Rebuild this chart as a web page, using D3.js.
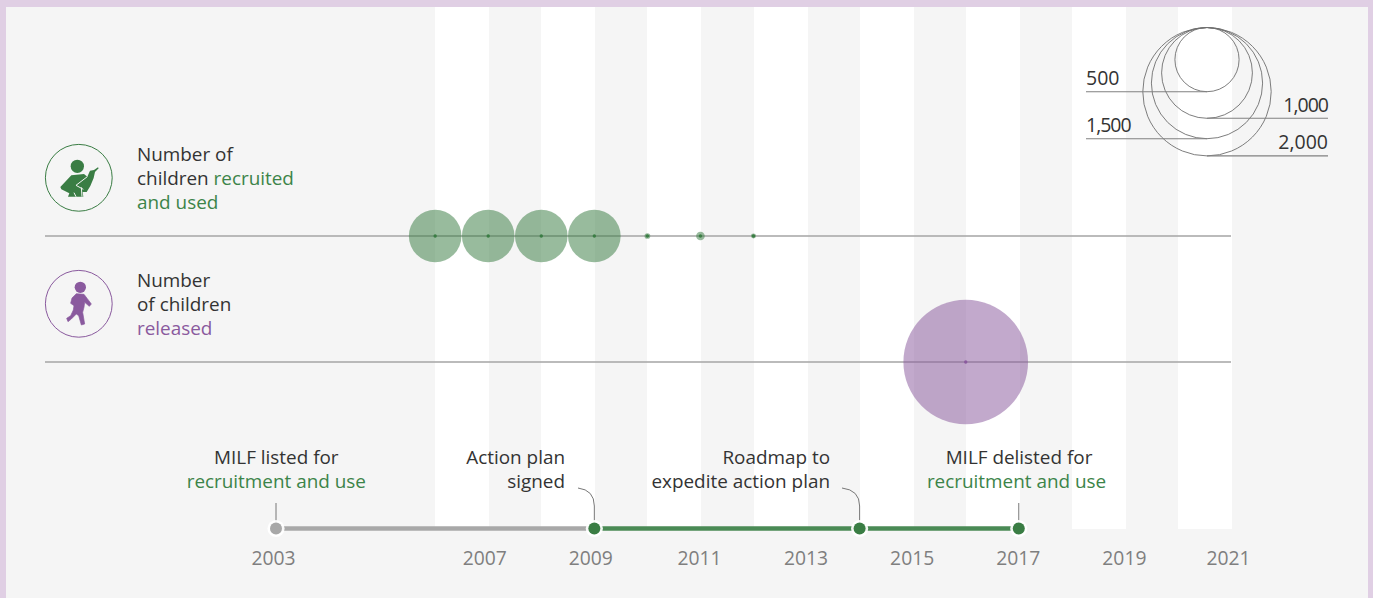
<!DOCTYPE html>
<html><head><meta charset="utf-8">
<script src="https://cdn.jsdelivr.net/npm/d3@7"></script>
<style>html,body{margin:0;padding:0;background:#e0cfe4;overflow:hidden}svg{display:block}text{font-family:"Open Sans","Noto Sans",sans-serif}</style>
</head><body><svg id="c" width="1373" height="598"></svg>
<script>
const axisYears=[2003,2007,2009,2011,2013,2015,2017,2019,2021];
const bandStarts=[2006,2008,2010,2012,2014,2016,2018,2020];
const recruitedYears=[2006,2007,2008,2009,2010,2011,2012];
const recruitedValues=[336,336,336,336,4,9,3];
const releasedYears=[2016];
const releasedValues=[1885];
const legendValues=[500,1000,1500,2000];
const milestoneYears=[2003,2009,2014,2017];

const GREEN="#3a7d44",TEXTGREEN="#3c8449",PURPLE="#8a5a9e",DARK="#333333",GREY="#7f7f7f";
const svg=d3.select("#c");
const x=d3.scaleLinear().domain([2003,2021]).range([276,1231]);
// the printed year labels sit slightly off their years in the original
const labelX=d3.scaleLinear().domain(axisYears).range(axisYears.map(y=>x(y)-1+({2003:-2,2007:-3,2009:-3,2011:-0.5,2021:-2}[y]||0)));
const r=d3.scaleSqrt().domain([0,2000]).range([0,64.2]);
const FS=18.9;

svg.append("rect").attr("x",6).attr("y",7).attr("width",1362).attr("height",591).attr("fill","#f5f5f5");
svg.selectAll(".band").data(bandStarts).join("rect").attr("x",d=>Math.round(x(d))).attr("y",7)
  .attr("width",54).attr("height",522).attr("fill","#fff");

// legend
const lcx=1207,ltop=27.5;
svg.selectAll(".lg").data(legendValues).join("circle").attr("cx",lcx).attr("cy",d=>ltop+r(d)).attr("r",d=>r(d))
  .attr("fill","none").attr("stroke","#6e6e6e").attr("stroke-width",.9);
const legendLeft={500:true,1000:false,1500:true,2000:false};
legendValues.forEach(v=>{
  const y=ltop+2*r(v),left=legendLeft[v],s=d3.format(",")(v);
  svg.append("line").attr("x1",left?1086:lcx).attr("x2",left?lcx:1328).attr("y1",y).attr("y2",y).attr("stroke","#808080").attr("stroke-width",1.1);
  svg.append("text").attr("x",left?1086:1328).attr("y",y-6.5).attr("text-anchor",left?"start":"end")
    .attr("font-size",19.5).attr("letter-spacing",s[0]==="1"?-1:0).attr("fill",DARK).text(s);
});

// baselines
[236,362].forEach(y=>svg.append("line").attr("x1",45).attr("x2",1231).attr("y1",y).attr("y2",y).attr("stroke","#a4a4a4").attr("stroke-width",1.5));

function bubbles(years,vals,y,col){
  const data=years.map((d,i)=>({y:d,v:vals[i]}));
  svg.append("g").selectAll("circle").data(data).join("circle").attr("cx",d=>x(d.y)).attr("cy",y).attr("r",d=>r(d.v)).attr("fill",col).attr("fill-opacity",.52);
  svg.append("g").selectAll("circle").data(data).join("circle").attr("cx",d=>x(d.y)).attr("cy",y).attr("r",1.7).attr("fill",col);
}
bubbles(recruitedYears,recruitedValues,236,GREEN);
bubbles(releasedYears,releasedValues,362,PURPLE);

// icons
function ring(cy,col){svg.append("circle").attr("cx",78.8).attr("cy",cy).attr("r",33.4).attr("fill","none").attr("stroke",col).attr("stroke-width",1)}
ring(177.8,GREEN);ring(303.8,PURPLE);
const gi=svg.append("g").attr("transform","translate(48,148) scale(0.3333)");
gi.append("circle").attr("cx",88).attr("cy",55).attr("r",20).attr("fill",GREEN);
gi.append("path").attr("fill",GREEN).attr("d","M70 82 L108 78 L118 86 L126 68 L138 66 L150 58 L152 61 L141 72 L137 90 L127 114 L116 132 L104 132 L106 146 L60 146 L64 136 L40 124 L37 117Z");
gi.append("path").attr("fill","none").attr("stroke","#f5f5f5").attr("stroke-width",3).attr("d","M118 86 L84 112 L106 124 M100 118 L102 146 M78 134 L84 146");
const pi=svg.append("g").attr("transform","translate(48,274) scale(0.3333)");
pi.append("circle").attr("cx",97).attr("cy",40).attr("r",17).attr("fill",PURPLE);
pi.append("path").attr("fill",PURPLE).attr("stroke",PURPLE).attr("stroke-width",2).attr("stroke-linejoin","round").attr("d","M85 59 L108 61 L118 74 L130 90 L124 97 L110 85 L108 100 L104 115 L110 150 L100 153 L92 125 L85 120 L70 135 L60 143 L56 133 L68 125 L76 108 L78 95 L68 88 L72 72Z");

function block(xp,rows,anchor){
  rows.forEach(row=>{
    const t=svg.append("text").attr("x",row.x===undefined?xp:row.x).attr("y",row.y).attr("font-size",FS).attr("text-anchor",anchor||"start").attr("fill",DARK);
    row.t.forEach(p=>t.append("tspan").attr("fill",p[1]||DARK).text(p[0]));
  });
}
block(137,[{y:161,t:[["Number of"]]},{y:185,t:[["children "],["recruited",TEXTGREEN]]},{y:209,t:[["and used",TEXTGREEN]]}]);
block(137,[{y:287,t:[["Number"]]},{y:311,t:[["of children"]]},{y:335,t:[["released",PURPLE]]}]);
block(276.3,[{y:464,t:[["MILF listed for"]]},{y:488,t:[["recruitment and use",TEXTGREEN]]}],"middle");
block(565,[{y:464,t:[["Action plan"]]},{y:488,t:[["signed"]]}],"end");
block(830,[{y:464,t:[["Roadmap to"]]},{y:488,t:[["expedite action plan"]]}],"end");
block(1016.5,[{x:1019,y:464,t:[["MILF delisted for"]]},{y:488,t:[["recruitment and use",TEXTGREEN]]}],"middle");

// timeline
const tlY=528.5;
svg.append("line").attr("x1",x(2003)).attr("x2",x(2009)).attr("y1",tlY).attr("y2",tlY).attr("stroke","#a8a8a8").attr("stroke-width",4.5);
svg.append("line").attr("x1",x(2009)).attr("x2",x(2017)).attr("y1",tlY).attr("y2",tlY).attr("stroke","#4a8a55").attr("stroke-width",4.5);
// leaders
const lc="#777";
[2003,2017].forEach(y=>svg.append("line").attr("x1",x(y)).attr("x2",x(y)).attr("y1",503).attr("y2",522).attr("stroke",lc).attr("stroke-width",1));
[[2009,578],[2014,842]].forEach(([y,sx])=>svg.append("path").attr("d",`M${sx} 488 Q${x(y)} 490 ${x(y)} 506 L${x(y)} 522`).attr("fill","none").attr("stroke",lc).attr("stroke-width",1));
svg.selectAll(".h").data(milestoneYears).join("circle").attr("cx",d=>x(d)).attr("cy",tlY).attr("r",8.6).attr("fill","#fff").attr("fill-opacity",.92);
svg.selectAll(".m").data(milestoneYears).join("circle").attr("cx",d=>x(d)).attr("cy",tlY).attr("r",6).attr("fill",d=>d===2003?"#a8a8a8":GREEN);

// axis labels
const ax=d3.axisBottom(labelX).tickValues(axisYears).tickFormat(d3.format("d")).tickSize(0);
const ag=svg.append("g").attr("transform","translate(0,545)").call(ax);
ag.select(".domain").remove();
ag.selectAll("text").attr("font-size",19.3).attr("fill",GREY).attr("font-family",null).attr("dy",".35em").attr("y",13);
</script></body></html>
